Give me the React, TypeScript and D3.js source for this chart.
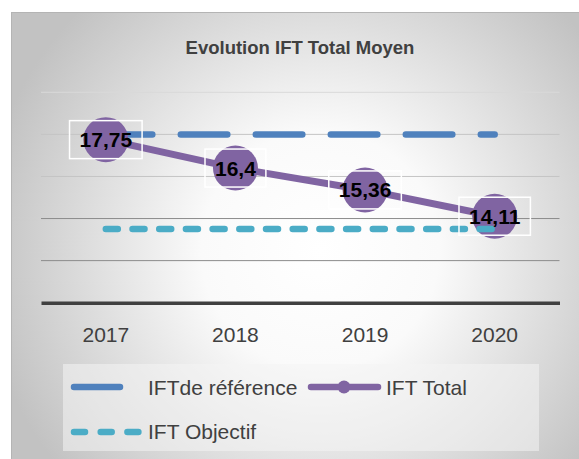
import { useEffect, useRef } from 'react'
import * as d3 from 'd3'

const years = ['2017', '2018', '2019', '2020']
const iftTotal = [17.75, 16.4, 15.36, 14.11]
const iftReference = [18, 18, 18, 18]
const iftObjectif = [13.5, 13.5, 13.5, 13.5]
const yTicks = [10, 12, 14, 16, 18, 20]

const W = 579
const H = 459
const FONT = '"Liberation Sans", Arial, sans-serif'

export default function App() {
  const svgRef = useRef<SVGSVGElement>(null)

  useEffect(() => {
    if (!svgRef.current) return
    const svg = d3.select(svgRef.current)
    svg.selectAll('*').remove()

    // background
    const defs = svg.append('defs')
    const bg = defs.append('radialGradient').attr('id', 'bg-grad')
      .attr('gradientUnits', 'userSpaceOnUse')
      .attr('cx', 320).attr('cy', 250).attr('r', 340)
    bg.append('stop').attr('offset', '0%').attr('stop-color', '#ffffff')
    bg.append('stop').attr('offset', '35%').attr('stop-color', '#fafafa')
    bg.append('stop').attr('offset', '100%').attr('stop-color', '#c2c2c2')

    svg.append('rect').attr('width', W).attr('height', H).attr('fill', '#ffffff')
    svg.append('rect')
      .attr('x', 11.5).attr('y', 12.5).attr('width', 620).attr('height', 500)
      .attr('fill', 'url(#bg-grad)').attr('stroke', '#b4b4b4').attr('stroke-width', 1)

    // title
    svg.append('text')
      .attr('x', 300).attr('y', 54)
      .attr('text-anchor', 'middle')
      .attr('font-family', FONT).attr('font-weight', 'bold').attr('font-size', '18.5px')
      .attr('fill', '#404040')
      .text('Evolution IFT Total Moyen')

    const x = d3.scaleBand().domain(years).range([41, 559.5])
    const cx = (d: string) => (x(d) ?? 0) + x.bandwidth() / 2
    const y = d3.scaleLinear().domain([10, 20]).range([302.7, 92.3])

    // grid
    const gridColor = (v: number) => (v >= 20 ? '#d9d9d9' : v >= 16 ? '#c4c4c4' : '#8c8c8c')
    svg.append('g')
      .selectAll('line')
      .data(yTicks.filter(t => t > 10))
      .enter().append('line')
      .attr('x1', 41).attr('x2', 559.5)
      .attr('y1', d => y(d)).attr('y2', d => y(d))
      .attr('stroke', d => gridColor(d)).attr('stroke-width', 1)

    // x axis
    svg.append('g')
      .attr('transform', `translate(0,${y(10)})`)
      .call(d3.axisBottom(x).tickSize(0).tickPadding(24))
      .call(ax => ax.select('.domain').attr('stroke', '#404040').attr('stroke-width', 3.5))
      .call(ax => ax.selectAll('.tick text')
        .attr('fill', '#404040').attr('font-size', '21px').attr('font-family', FONT))

    const line = d3.line<number>()
      .x((_, i) => cx(years[i]))
      .y(d => y(d))

    // IFT de référence
    svg.append('path')
      .datum(iftReference)
      .attr('fill', 'none').attr('stroke', '#4f81bd').attr('stroke-width', 6.5)
      .attr('stroke-linecap', 'round').attr('stroke-dasharray', '46.5 28.5')
      .attr('d', line)

    // IFT Total
    svg.append('path')
      .datum(iftTotal)
      .attr('fill', 'none').attr('stroke', '#8064a2').attr('stroke-width', 7)
      .attr('stroke-linejoin', 'round')
      .attr('d', line)
    svg.append('g')
      .selectAll('circle')
      .data(iftTotal)
      .enter().append('circle')
      .attr('cx', (_, i) => cx(years[i])).attr('cy', d => y(d))
      .attr('r', 22.5).attr('fill', '#8064a2')

    // IFT Objectif
    svg.append('path')
      .datum(iftObjectif)
      .attr('fill', 'none').attr('stroke', '#4bacc6').attr('stroke-width', 6.5)
      .attr('stroke-linecap', 'round').attr('stroke-dasharray', '12 14.7')
      .attr('d', line)

    // data labels
    const labels = svg.append('g')
    iftTotal.forEach((v, i) => {
      const g = labels.append('g').attr('transform', `translate(${cx(years[i])},${y(v)})`)
      const t = g.append('text')
        .attr('text-anchor', 'middle').attr('dy', '0.36em')
        .attr('font-family', FONT).attr('font-weight', 'bold').attr('font-size', '21px')
        .attr('fill', '#000000')
        .text(String(v).replace('.', ','))
      const w = (t.node() as SVGTextElement).getComputedTextLength()
      g.insert('rect', 'text')
        .attr('x', -w / 2 - 10).attr('y', -19)
        .attr('width', w + 20).attr('height', 38)
        .attr('fill', 'none').attr('stroke', '#ffffff').attr('stroke-width', 1.5)
    })

    // legend
    const lg = svg.append('g')
    lg.append('rect')
      .attr('x', 63).attr('y', 364).attr('width', 476).attr('height', 87)
      .attr('fill', '#f4f4f4').attr('opacity', 0.55)
    const txt = (tx: number, ty: number, s: string) =>
      lg.append('text').attr('x', tx).attr('y', ty)
        .attr('font-family', FONT).attr('font-size', '21px').attr('fill', '#404040').text(s)

    lg.append('line').attr('x1', 74).attr('x2', 120).attr('y1', 387).attr('y2', 387)
      .attr('stroke', '#4f81bd').attr('stroke-width', 6.5).attr('stroke-linecap', 'round')
    txt(148, 395, 'IFTde référence')

    lg.append('line').attr('x1', 311).attr('x2', 378).attr('y1', 387).attr('y2', 387)
      .attr('stroke', '#8064a2').attr('stroke-width', 6.5).attr('stroke-linecap', 'round')
    lg.append('circle').attr('cx', 344).attr('cy', 387).attr('r', 6.5).attr('fill', '#8064a2')
    txt(386, 395, 'IFT Total')

    lg.append('line').attr('x1', 74).attr('x2', 140).attr('y1', 432).attr('y2', 432)
      .attr('stroke', '#4bacc6').attr('stroke-width', 6.5).attr('stroke-linecap', 'round')
      .attr('stroke-dasharray', '11 15.7')
    txt(148, 439, 'IFT Objectif')
  }, [])

  return (
    <svg
      ref={svgRef}
      width={W}
      height={H}
      style={{ position: 'absolute', left: 0, top: 0 }}
    />
  )
}
